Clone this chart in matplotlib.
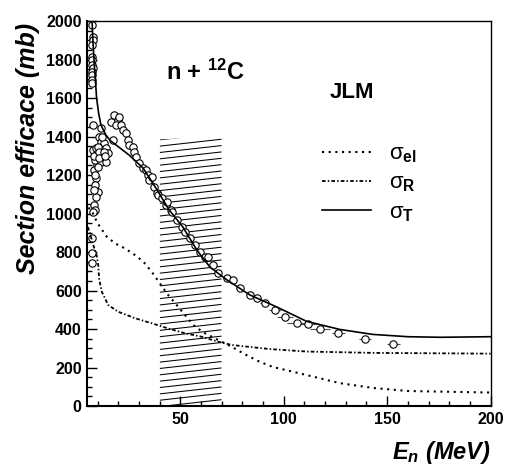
import matplotlib
matplotlib.use('Agg')
import matplotlib.pyplot as plt
from matplotlib.lines import Line2D
from matplotlib.patches import Polygon
import numpy as np

plt.rcParams['font.family'] = ['Liberation Sans', 'DejaVu Sans']
plt.rcParams['mathtext.fontset'] = 'custom'
plt.rcParams['mathtext.rm'] = 'Liberation Sans'
plt.rcParams['mathtext.bf'] = 'Liberation Sans:bold'
plt.rcParams['mathtext.it'] = 'Liberation Sans:bold:italic'

# JLM calculations (energie en MeV, section efficace en mb)
E_tot = [7.0, 7.3, 7.8, 8.4, 9.0, 9.5, 10.5, 11.6, 14, 16, 18.9, 25.2, 32, 38.2,
         44.5, 51.2, 58, 64.3, 72.5, 83.6, 96.7, 111, 127, 143, 160, 176, 200]
sig_tot = [2060, 2000, 1880, 1771, 1680, 1600, 1520, 1460, 1408, 1380, 1356, 1304,
           1236, 1132, 1020, 930, 810, 722, 655, 577, 514, 440, 398, 372, 360, 357, 360]

E_reac = [5.3, 6.3, 7.9, 9.5, 10.3, 10.7, 12, 15.1, 19.9, 28.1, 36.1, 44.1, 52.2,
          60.3, 68.3, 74.8, 93, 111, 143, 200]
sig_reac = [930, 897, 836, 784, 732, 663, 594, 525, 490, 456, 430, 403, 378,
            360, 334, 317, 296, 283, 276, 272]

E_el = [5.5, 7.0, 8.2, 9.5, 11.1, 14.4, 18.4, 23.2, 28.1, 32.1, 36.1, 40.1, 44.1,
        48.2, 52.2, 57.1, 61.9, 68.3, 74.8, 81, 88.5, 94.7, 111, 127, 143, 160, 200]
sig_el = [1030, 1018, 990, 960, 931, 880, 845, 819, 784, 750, 698, 637, 577,
          525, 473, 412, 378, 343, 308, 270, 229, 203, 161, 119, 94, 78, 70]

# donnees experimentales
E_exp = [7.4, 7.6, 7.6, 7.5, 7.3, 7.4, 7.5, 7.6, 7.3, 7.4, 7.3, 7.3,
         7.6, 7.6, 9.2, 8.4, 9.2, 10.0, 9.2, 8.4, 8.9, 8.0, 7.1, 7.4, 7.1,
         8.6, 8.8, 8.2, 9.6, 8.5, 9.0, 8.2,
         11.6, 10.8, 11.6, 12.4, 13.2, 10.0, 10.8, 14.0, 14.9, 12.4, 11.6, 14.0,
         10.5, 13.2, 12.0, 13.6, 10.3,
         17.3, 16.5, 18.1, 19.7, 20.5, 18.9, 21.3, 22.1, 23.7, 24.5, 25.3, 27.0,
         27.7, 28.5, 30.1, 31.8, 33.4, 34.2, 35.0, 36.1, 37.4, 38.5, 39.0,
         41.0, 43.0, 43.4, 45.5, 45.8, 48.2, 50.6, 52.2, 54.6, 57.0, 59.5, 61.9, 63.5,
         65.9, 68.3, 72.4, 75.6, 78.8, 83.6, 86.9, 90.9, 95.7, 100.5, 106.2,
         111.8, 117.5, 126.4, 139.2, 153.0]
sig_exp = [1979, 1917, 1901, 1875, 1813, 1797, 1771, 1756, 1735, 1719, 1693, 1680,
           1460, 1330, 1304, 1226, 1184, 1112, 1086, 1044, 1018, 1008, 872, 795, 743,
           1200, 1150, 1120, 1250, 1280, 1340, 1300,
           1444, 1397, 1371, 1345, 1366, 1345, 1319, 1340, 1314, 1293, 1267, 1267,
           1288, 1319, 1400, 1300, 1240,
           1382, 1475, 1512, 1486, 1501, 1460, 1460, 1434, 1418, 1382, 1356, 1345,
           1319, 1293, 1262, 1236, 1226, 1200, 1174, 1190, 1138, 1106, 1096,
           1080, 1044, 1060, 1018, 1008, 966, 930, 904, 873, 836, 800, 774, 774,
           732, 691, 665, 655, 613, 577, 561, 535, 499, 462, 431,
           426, 400, 379, 348, 322]
dE_exp = ([0] * 72
          + [0.8, 0.8, 0.8, 0.9, 0.9, 1.0, 1.0, 1.1, 1.2, 1.3, 1.3, 1.4, 1.4]
          + [1.5, 1.5, 1.6, 1.7, 1.8, 1.9, 2.0, 2.2, 3.0, 4.0, 4.5]
          + [4.0, 5.0, 3.0, 3.0, 3.0])

# zone hachuree
hatch_E = [40, 70]
hatch_top = [1385, 1400]

fig = plt.figure(figsize=(5.06, 4.67), dpi=100)
ax = fig.add_axes([0.1725, 0.1306, 0.797, 0.8244])

# hachures legerement inclinees, coupees par le contour de la zone
zone = Polygon([(hatch_E[0], 0), (hatch_E[1], 0), (hatch_E[1], hatch_top[1]),
                (hatch_E[0], hatch_top[0])], closed=True, fill=False, lw=0)
ax.add_patch(zone)
pas, pente = 33, 36
for y0 in np.arange(-pente, hatch_top[1] + pas, pas):
    ax.plot(hatch_E, [y0, y0 + pente], color='black', lw=0.75, clip_path=zone,
            solid_capstyle='butt', zorder=1)

ax.errorbar(E_exp, sig_exp, xerr=dE_exp, fmt='o', mfc='white', mec='black',
            ms=5.3, mew=0.8, ecolor='0.3', elinewidth=0.8, capsize=0, zorder=3)

ax.plot(E_el, sig_el, color='black', lw=1.5, linestyle=(0, (1, 2.2)), zorder=4)
ax.plot(E_reac, sig_reac, color='black', lw=1.3, linestyle=(0, (2, 1.2, 0.8, 1.2)), zorder=4)
ax.plot(E_tot, sig_tot, color='black', lw=1.2, zorder=4)

ax.set_xlim(5, 200)
ax.set_ylim(0, 2000)
ax.set_xticks([50, 100, 150, 200])
ax.set_xticks(np.arange(10, 200, 10), minor=True)
ax.set_yticks(np.arange(0, 2001, 200))
ax.set_yticks(np.arange(0, 2001, 50), minor=True)
ax.tick_params(which='both', direction='in', top=False, right=False,
               labelsize=11.5, width=1)
ax.tick_params(which='major', length=7, pad=4)
ax.tick_params(which='minor', length=3.5)
for lab in ax.get_xticklabels() + ax.get_yticklabels():
    lab.set_fontweight('bold')
for s in ['left', 'bottom']:
    ax.spines[s].set_linewidth(1.5)
for s in ['top', 'right']:
    ax.spines[s].set_linewidth(1.0)

fig.text(0.055, 0.683, 'Section efficace (mb)', rotation=90, ha='center',
         va='center', fontsize=18, fontweight='bold', style='italic')
ax.set_xlabel('E$_n$ (MeV)', loc='right', fontsize=17, fontweight='bold',
              style='italic', labelpad=9)

ax.text(43, 1735, r'n + $^{\mathbf{12}}$C', fontsize=17, fontweight='bold',
        va='center')
ax.text(122, 1630, 'JLM', fontsize=16, fontweight='bold', va='center')

handles = [Line2D([], [], color='black', lw=1.5, linestyle=(0, (1, 2.2))),
           Line2D([], [], color='black', lw=1.3, linestyle=(0, (2, 1.2, 0.8, 1.2))),
           Line2D([], [], color='black', lw=1.2)]
labels = [r'$\mathrm{\sigma}_{\mathbf{el}}$', r'$\mathrm{\sigma}_{\mathbf{R}}$',
          r'$\mathrm{\sigma}_{\mathbf{T}}$']
ax.legend(handles, labels, loc='upper left', bbox_to_anchor=(0.56, 0.705),
          frameon=False, fontsize=16, handlelength=2.2, handletextpad=0.8,
          labelspacing=0.35, borderaxespad=0)

fig.savefig('out.png', dpi=100)
